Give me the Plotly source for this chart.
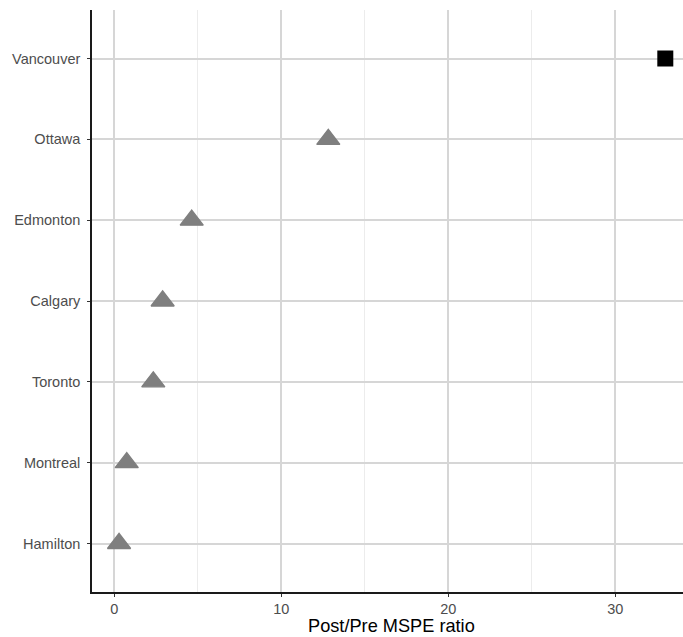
import plotly.graph_objects as go

cities = ["Hamilton", "Montreal", "Toronto", "Calgary", "Edmonton", "Ottawa", "Vancouver"]
ratios = [0.29, 0.75, 2.34, 2.90, 4.64, 12.82, 33.0]
treated = [False, False, False, False, False, False, True]
x_ticks = [0, 10, 20, 30]

ctrl_c = [c for c, t in zip(cities, treated) if not t]
ctrl_v = [v for v, t in zip(ratios, treated) if not t]
tr_c = [c for c, t in zip(cities, treated) if t]
tr_v = [v for v, t in zip(ratios, treated) if t]

fig = go.Figure()
fig.add_trace(go.Scatter(
    x=ctrl_v, y=ctrl_c, mode="markers",
    marker=dict(symbol="triangle-up", size=20, color="#7f7f7f",
                line=dict(width=1.4, color="#7f7f7f")),
    showlegend=False, cliponaxis=False))
fig.add_trace(go.Scatter(
    x=tr_v, y=tr_c, mode="markers",
    marker=dict(symbol="square", size=16, color="#000000", line=dict(width=0)),
    showlegend=False, cliponaxis=False))

fig.update_layout(
    width=683, height=637,
    margin=dict(l=92, r=0, t=10, b=45),
    plot_bgcolor="white", paper_bgcolor="white",
    font=dict(family="Liberation Sans, Arial, sans-serif", color="#4d4d4d", size=14.5),
    xaxis=dict(
        range=[-1.33, 34.06], tickvals=x_ticks, ticktext=[str(v) for v in x_ticks],
        showgrid=True, gridcolor="#d6d6d6", gridwidth=1.8,
        minor=dict(dtick=5, tick0=0, showgrid=True, gridcolor="#ececec", gridwidth=1.1, ticks=""),
        zeroline=False, showline=True, linecolor="#1a1a1a", linewidth=1.6,
        ticks="outside", ticklen=3, tickwidth=1.4, tickcolor="#333333",
        tickfont=dict(size=14.5, color="#4d4d4d"),
    ),
    yaxis=dict(
        type="category", categoryorder="array", categoryarray=cities,
        range=[-0.6, 6.6],
        showgrid=True, gridcolor="#d6d6d6", gridwidth=1.8,
        zeroline=False, showline=True, linecolor="#1a1a1a", linewidth=1.6,
        ticks="outside", ticklen=3, tickwidth=1.4, tickcolor="#333333",
        tickfont=dict(size=14.5, color="#4d4d4d"),
        ticklabelstandoff=4,
    ),
    annotations=[dict(
        text="Post/Pre MSPE ratio", xref="paper", yref="paper",
        x=0.507, y=-0.059, xanchor="center", yanchor="middle",
        showarrow=False, font=dict(size=18.2, color="#000000"))],
)

fig.write_html("out.html", config={"displayModeBar": False},
               post_script="document.body.style.margin='0';document.body.style.padding='0';")
